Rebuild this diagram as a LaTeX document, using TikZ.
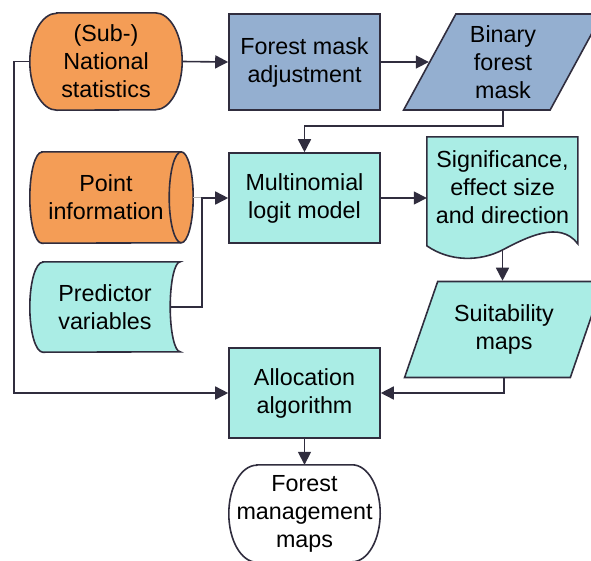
\documentclass[tikz,border=0pt]{standalone}
\usepackage{fontspec}
\setmainfont{Liberation Sans}
\usepackage{xcolor}
\usetikzlibrary{positioning, calc, shapes.geometric, arrows.meta, backgrounds}

\definecolor{orangefill}{RGB}{244,157,86}
\definecolor{bluefill}{RGB}{148,175,208}
\definecolor{cyanfill}{RGB}{170,237,229}
\definecolor{linecol}{RGB}{48,45,62}

\tikzset{
  every node/.style={font=\fontsize{23.3}{28}\selectfont, align=center, inner sep=0pt},
  flowbox/.style={draw=linecol, line width=1.6pt, minimum width=151pt, minimum height=#1},
  slanted/.style={trapezium, trapezium left angle=63.4, trapezium right angle=116.6,
    trapezium stretches=true, draw=linecol, line width=1.6pt,
    minimum width=199pt, minimum height=96pt},
  outline/.style={draw=linecol, line width=1.6pt},
  link/.style={draw=linecol, line width=1.6pt},
  flow/.style={link, -{Triangle[length=13pt, width=13pt]}}
}

\begin{document}
\begin{tikzpicture}[x=1pt, y=-1pt]
\useasboundingbox (0,0) rectangle (591,560);

\node[minimum width=152pt, minimum height=97pt] (stats) at (106,61.5) {(Sub-)\\National\\statistics};
\node[flowbox=96pt, fill=bluefill] (adjust) at (304.5,62) {Forest mask\\adjustment};
\node[slanted, fill=bluefill] (binmask) at (503,62) {Binary\\forest\\mask};

\node[minimum width=174pt, minimum height=91pt] (point) at (106,197.5) {Point\\information};
\node[flowbox=90pt, fill=cyanfill] (logit) at (304.5,198) {Multinomial\\logit model};
\node[minimum width=151pt, minimum height=100pt] (sig) at (502.5,187) {Significance,\\effect size\\and direction};

\node[minimum width=130pt, minimum height=90pt] (pred) at (105,307) {Predictor\\variables};
\node[slanted, fill=cyanfill] (suit) at (504,329.5) {Suitability\\maps};

\node[flowbox=90pt, fill=cyanfill] (alloc) at (304.5,393) {Allocation\\algorithm};
\node[minimum width=151pt, minimum height=97pt] (maps) at (304.5,513.5) {Forest\\management\\maps};

\begin{pgfonlayer}{background}
\begin{scope}[y=1pt]
\draw[outline, fill=orangefill] ([xshift=27pt]stats.north west) -- ([xshift=-27pt]stats.north east)
  arc[start angle=90, end angle=-90, x radius=27pt, y radius=48.5pt] -- ([xshift=27pt]stats.south west)
  arc[start angle=270, end angle=90, x radius=27pt, y radius=48.5pt] -- cycle;
\draw[outline, fill=orangefill] ([xshift=23pt]point.north west) -- ([xshift=-12pt]point.north east)
  arc[start angle=90, end angle=-90, x radius=12pt, y radius=45.5pt] -- ([xshift=23pt]point.south west)
  arc[start angle=270, end angle=90, x radius=12pt, y radius=45.5pt] -- cycle;
\draw[outline] ([xshift=-12pt]point.north east) arc[start angle=90, end angle=270, x radius=12pt, y radius=45.5pt];
\draw[outline, fill=cyanfill] ([xshift=3pt]pred.north west) -- ([xshift=10pt]pred.north east)
  arc[start angle=90, end angle=270, x radius=10pt, y radius=45pt] -- ([xshift=3pt]pred.south west)
  arc[start angle=270, end angle=90, x radius=13pt, y radius=45pt] -- cycle;
\draw[outline, fill=white] ([xshift=28pt]maps.north west) -- ([xshift=-28pt]maps.north east)
  arc[start angle=90, end angle=-90, x radius=28pt, y radius=48.5pt] -- ([xshift=28pt]maps.south west)
  arc[start angle=270, end angle=90, x radius=28pt, y radius=48.5pt] -- cycle;
\end{scope}
\draw[outline, fill=cyanfill, shift={(sig.north west)}] (0,0) -- (151,0) -- (151,107)
  .. controls (133,83) and (99,101) .. (76,113) .. controls (53,125) and (23,125) .. (0,109) -- cycle;
\end{pgfonlayer}

\coordinate (join) at ($(pred.east)+(32,0)$);

\draw[flow] (stats.east) -- (adjust.west);
\draw[flow] (adjust.east) -- (binmask.left side);
\draw[flow] (binmask.center |- binmask.bottom side) -- ++(0,15) -| (logit.north);
\draw[flow] (logit.east) -- (logit.east -| sig.west);
\draw[flow] ([yshift=-13pt]sig.south) -- (sig.south |- suit.top side);
\draw[link, draw=gray!60, line width=0.8pt] (point.east) -- (point.east -| join);
\draw[flow] (pred.east) -- (join) |- (logit.west);
\draw[flow] (stats.west) -- ++(-16,0) |- (alloc.west);
\draw[flow] (suit.center |- suit.bottom side) |- (alloc.east);
\draw[flow] (alloc.south) -- (maps.north);
\end{tikzpicture}
\end{document}
